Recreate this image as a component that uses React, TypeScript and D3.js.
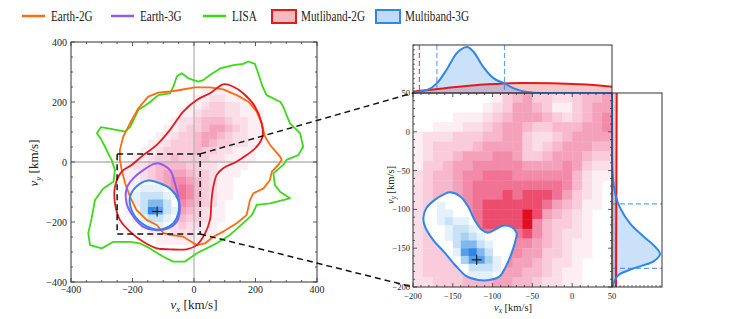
import React from 'react';
import * as d3 from 'd3';

const FONT = '"Liberation Serif", "Times New Roman", serif';

// legend
const legendLabels = ['Earth-2G', 'Earth-3G', 'LISA', 'Mutliband-2G', 'Multiband-3G'];
const legendColors = ['#ff6b0f', '#8f5cf2', '#3dd816', '#e31a1c', '#2e86e8'];
const legendKinds = ['line', 'line', 'line', 'patch', 'patch'];

// ticks
const wideTicks = [-400, -200, 0, 200, 400];
const zoomTicks = [-200, -150, -100, -50, 0, 50];

// injected velocity (km/s)
const truth: [number, number] = [-120, -165];
// zoom window drawn on the wide panel
const boxX = [-250, 20];
const boxY = [-240, 27];

// 90% contours, km/s
const lisaContour: [number, number][] = [
    [-316, 96], [-303, 116], [-262, 109], [-224, 101], [-208, 116], [-197, 140], [-181, 173], [-148, 196],
    [-116, 223], [-78, 229], [-67, 251], [-56, 285], [-40, 296], [-18, 279], [14, 268], [30, 273],
    [52, 290], [85, 312], [128, 323], [160, 327], [177, 335], [198, 327], [209, 296], [223, 251],
    [236, 223], [280, 201], [290, 185], [312, 129], [345, 96], [355, 51], [339, 23], [301, 7],
    [292, -8], [258, -38], [263, -77], [280, -99], [312, -121], [247, -138], [204, -143], [188, -177],
    [160, -204], [117, -243], [74, -271], [41, -288], [9, -304], [-29, -332], [-67, -332], [-100, -316],
    [-143, -288], [-176, -271], [-208, -266], [-262, -266], [-300, -288], [-338, -277], [-344, -238],
    [-333, -188], [-322, -127], [-295, -88], [-262, -66], [-257, -27], [-268, 7], [-276, 22], [-289, 50],
    [-303, 78],
];
const earth2gContour: [number, number][] = [
    [-241, 40], [-230, 85], [-208, 129], [-181, 179], [-149, 218], [-116, 231], [-78, 235], [-46, 240],
    [3, 249], [52, 249], [95, 242], [139, 223], [177, 201], [204, 168], [220, 129], [231, 85], [247, 57],
    [280, 18], [285, 7], [274, -10], [253, -32], [247, -60], [226, -88], [193, -104], [182, -127],
    [171, -177], [139, -204], [95, -232], [63, -249], [36, -271], [9, -277], [-35, -249], [-78, -243],
    [-100, -236], [-121, -210], [-154, -193], [-187, -160], [-208, -116], [-224, -71], [-235, -27], [-241, 7],
];
const mb2gContour: [number, number][] = [
    [-203, -10], [-165, 23], [-121, 57], [-78, 107], [-35, 168], [9, 207], [52, 229], [95, 259],
    [128, 251], [160, 229], [198, 185], [220, 129], [223, 85], [204, 51], [171, 23], [138, 1],
    [95, -21], [74, -43], [63, -82], [57, -127], [52, -193], [36, -238], [9, -277], [-24, -291],
    [-78, -291], [-121, -288], [-165, -266], [-208, -232], [-241, -193], [-257, -138], [-257, -82],
    [-235, -32],
];
const earth3gContour: [number, number][] = [
    [-116, -4], [-78, -27], [-62, -71], [-51, -116], [-46, -160], [-56, -199], [-84, -221], [-127, -227],
    [-165, -216], [-197, -182], [-219, -138], [-219, -88], [-197, -54], [-165, -27], [-132, -7],
];
const mb3gContourWide: [number, number][] = [
    [-149, -62], [-111, -71], [-73, -93], [-51, -127], [-51, -171], [-67, -204], [-100, -223],
    [-132, -223], [-176, -199], [-203, -160], [-208, -116], [-187, -82],
];
const mb3gContourZoom: [number, number][] = [
    [-154, -78], [-141, -83], [-131, -96], [-123, -113], [-114, -126], [-106, -130], [-97, -126],
    [-87, -121], [-76, -123], [-70, -130], [-72, -143], [-76, -156], [-83, -173], [-91, -186],
    [-104, -191], [-118, -191], [-133, -186], [-146, -173], [-160, -156], [-175, -139], [-185, -122],
    [-187, -111], [-183, -98], [-173, -88], [-160, -80],
];

// Multiband-2G histogram, wide view: 25 km/s bins, x from -275, rows from y=250 down
const mb2gHistWide = [
    '0000000000001111000000',
    '0000000000011221110000',
    '0000000000112332211000',
    '0000000001123332211100',
    '0000000012234443221100',
    '0000000112334554321100',
    '0000001123345543221100',
    '0000011233345433221100',
    '0000112333343322111000',
    '0001123343333221111000',
    '0012234444332211110000',
    '0011234555433211100000',
    '0011234566543211000000',
    '0011233567643211000000',
    '0011223467643211000000',
    '0011123456543210000000',
    '0011122345432110000000',
    '0001112334332110000000',
    '0000111223221100000000',
    '0000011122211100000000',
    '0000001111111000000000',
];
// Multiband-3G histogram, wide view: 25 km/s bins, x from -200, rows from y=-75 down
const mb3gHistWide = [
    '011100',
    '122210',
    '124420',
    '026521',
    '012210',
    '001100',
];
// Multiband-2G histogram, zoom view: 12.5 km/s bins, x from -200, rows from y=50 down
const mb2gHistZoom = [
    '00000000134533223445',
    '00000001235543113455',
    '00001112345554323456',
    '00111223455433444556',
    '12223334455322345555',
    '12333345555323455544',
    '12334555665334555433',
    '13345566666555565322',
    '23445667776666664211',
    '23445677777777764210',
    '23445677787888753210',
    '23445678888887543110',
    '23345678888985432100',
    '23345678888964332100',
    '23345667777864322100',
    '23334556666654321100',
    '23334455666553321100',
    '23334455565543221000',
    '23333445555443211000',
    '22333444554432211000',
];
// Multiband-3G histogram, zoom view: 10 km/s bins, x from -190, rows from y=-80 down
const mb3gHistZoom = [
    '000000000000',
    '001000000000',
    '001100000000',
    '001211000000',
    '000122100000',
    '000123210000',
    '000024421000',
    '000015642000',
    '000003553100',
    '000000222100',
    '000000111000',
    '000000000000',
];

// marginal densities (normalised to the panel height)
const topBlueX = [-200, -183, -170, -158, -145, -132, -124, -112, -99, -85, -74, -57, -40, 50];
const topBlueD = [0.01, 0.06, 0.2, 0.48, 0.83, 0.96, 0.86, 0.55, 0.31, 0.2, 0.1, 0.02, 0, 0];
const topRedX = [-200, -160, -116, -61, 10, 50];
const topRedD = [0.03, 0.1, 0.17, 0.21, 0.18, 0.13];
const sideBlueY = [50, 0, -50, -66, -84, -99, -118, -135, -148, -157.5, -167, -176, -184.5, -193, -200];
const sideBlueD = [0, 0.002, 0.01, 0.03, 0.08, 0.17, 0.36, 0.63, 0.86, 0.96, 0.83, 0.43, 0.13, 0.04, 0.02];
const sideRedY = [50, -75, -200];
const sideRedD = [0.094, 0.088, 0.08];
// 90% intervals
const topRedInterval = [-192];
const topBlueInterval = [-170, -85];
const sideBlueInterval = [-93, -176];

const redScale = d3.scaleLinear<string>()
    .domain([0, 1, 3, 5, 7, 8, 9])
    .range(['#ffffff', '#fdeef3', '#f9cbdb', '#f4a2bc', '#f07396', '#ec4c6e', '#e30d22']);
const blueScale = d3.scaleLinear<string>()
    .domain([0, 1, 3, 6])
    .range(['#ffffff', '#e4f1fb', '#a9d2f1', '#2f86e6']);

type Scale = d3.ScaleLinear<number, number>;

const heatCells = (rows: string[], x0: number, yTop: number, bin: number,
                   sx: Scale, sy: Scale, color: (v: number) => string, key: string) =>
    rows.flatMap((row, r) => row.split('').map((ch, c) => {
        const v = +ch;
        if (!v) {
            return null;
        }
        const xa = sx(x0 + c * bin);
        const xb = sx(x0 + (c + 1) * bin);
        const ya = sy(yTop - r * bin);
        const yb = sy(yTop - (r + 1) * bin);
        return <rect key={`${key}${r}_${c}`} x={xa} y={ya} width={xb - xa + 0.4} height={yb - ya + 0.4}
                     fill={color(v)}/>;
    }));

const closedPath = (pts: [number, number][], sx: Scale, sy: Scale, smooth: boolean) =>
    d3.line<[number, number]>()
        .x(d => sx(d[0]))
        .y(d => sy(d[1]))
        .curve(smooth ? d3.curveCatmullRomClosed.alpha(0.5) : d3.curveLinearClosed)(pts) || '';

// inward ticks on all four sides of a box
const frameTicks = (sx: Scale, sy: Scale, major: number[], minorStep: number, key: string) => {
    const [x0, x1] = sx.range();
    const [y1, y0] = sy.range();
    const [d0, d1] = sx.domain();
    const minor = d3.range(d0, d1 + 0.001, minorStep).filter(v => !major.includes(v));
    const out: React.ReactNode[] = [];
    const push = (v: number, len: number, tag: string) => {
        const px = sx(v);
        const py = sy(v);
        out.push(<line key={`${key}b${tag}${v}`} x1={px} x2={px} y1={y1} y2={y1 - len}/>);
        out.push(<line key={`${key}t${tag}${v}`} x1={px} x2={px} y1={y0} y2={y0 + len}/>);
        out.push(<line key={`${key}l${tag}${v}`} x1={x0} x2={x0 + len} y1={py} y2={py}/>);
        out.push(<line key={`${key}r${tag}${v}`} x1={x1} x2={x1 - len} y1={py} y2={py}/>);
    };
    major.forEach(v => push(v, 4, 'M'));
    minor.forEach(v => push(v, 2, 'm'));
    return <g stroke="#333" strokeWidth={0.8}>{out}</g>;
};

const fmt = (v: number) => (v < 0 ? `\u2212${Math.abs(v)}` : `${v}`);

const VLabel = ({x, y, sub, size, rotate}: {x: number, y: number, sub: string, size: number, rotate?: boolean}) => (
    <text x={x} y={y} fontSize={size} textAnchor="middle" fontFamily={FONT} fill="#222"
          transform={rotate ? `rotate(-90 ${x} ${y})` : undefined}>
        <tspan fontStyle="italic">v</tspan>
        <tspan fontStyle="italic" fontSize={size * 0.7} dy={size * 0.22}>{sub}</tspan>
        <tspan dy={-size * 0.22}> [km/s]</tspan>
    </text>
);

export default function App() {
    const xL = d3.scaleLinear().domain([-400, 400]).range([71, 317]);
    const yL = d3.scaleLinear().domain([-400, 400]).range([282, 42]);
    const xZ = d3.scaleLinear().domain([-200, 50]).range([413, 612]);
    const yZ = d3.scaleLinear().domain([-200, 50]).range([287, 93]);
    const dTop = d3.scaleLinear().domain([0, 1]).range([93, 45]);
    const dSide = d3.scaleLinear().domain([0, 1]).range([612, 662]);

    const topArea = (xs: number[], ds: number[]) =>
        d3.area<number>()
            .x(i => xZ(xs[i]))
            .y0(dTop(0))
            .y1(i => dTop(ds[i]))
            .curve(d3.curveMonotoneX)(d3.range(xs.length)) || '';
    const topLine = (xs: number[], ds: number[]) =>
        d3.line<number>()
            .x(i => xZ(xs[i]))
            .y(i => dTop(ds[i]))
            .curve(d3.curveMonotoneX)(d3.range(xs.length)) || '';
    const sideArea = (ys: number[], ds: number[]) =>
        d3.area<number>()
            .y(i => yZ(ys[i]))
            .x0(dSide(0))
            .x1(i => dSide(ds[i]))
            .curve(d3.curveCatmullRom)(d3.range(ys.length)) || '';
    const sideLine = (ys: number[], ds: number[]) =>
        d3.line<number>()
            .y(i => yZ(ys[i]))
            .x(i => dSide(ds[i]))
            .curve(d3.curveCatmullRom)(d3.range(ys.length)) || '';

    const red = legendColors[3];
    const blue = legendColors[4];
    const legendX = [22, 111, 203, 272, 376];

    const cross = (cx: number, cy: number, s: number) => (
        <g stroke="#111" strokeWidth={1.1}>
            <line x1={cx - s} x2={cx + s} y1={cy} y2={cy}/>
            <line x1={cx} x2={cx} y1={cy - s} y2={cy + s}/>
        </g>
    );

    return (
        <svg width={749} height={319} style={{position: 'absolute', left: 0, top: 0, background: '#fff'}}
             fontFamily={FONT}>
            <defs>
                <clipPath id="clipWide"><rect x={71} y={42} width={246} height={240}/></clipPath>
                <clipPath id="clipZoom"><rect x={413} y={93} width={199} height={194}/></clipPath>
                <clipPath id="clipTop"><rect x={413} y={45} width={199} height={48}/></clipPath>
                <clipPath id="clipSide"><rect x={612} y={93} width={50} height={194}/></clipPath>
                <clipPath id="clipB3W"><path d={closedPath(mb3gContourWide, xL, yL, true)}/></clipPath>
                <clipPath id="clipB3Z"><path d={closedPath(mb3gContourZoom, xZ, yZ, true)}/></clipPath>
            </defs>

            {/* legend */}
            {legendLabels.map((lab, i) => {
                const x = legendX[i];
                return (
                    <g key={lab}>
                        {legendKinds[i] === 'line'
                         ? <line x1={x} x2={x + 23} y1={16} y2={16} stroke={legendColors[i]} strokeWidth={2.5}/>
                         : <rect x={x} y={10} width={24} height={13} fill={legendColors[i]} fillOpacity={0.3}
                                 stroke={legendColors[i]} strokeWidth={2}/>}
                        <text transform={`translate(${x + 29},21) scale(0.8,1)`} fontSize={14} fill="#222">{lab}</text>
                    </g>
                );
            })}

            {/* wide panel */}
            <g clipPath="url(#clipWide)">
                {heatCells(mb2gHistWide, -275, 250, 25, xL, yL, redScale, 'rw')}
                <line x1={xL(0)} x2={xL(0)} y1={42} y2={282} stroke="#b5b5b5" strokeWidth={1.3}/>
                <line x1={71} x2={317} y1={yL(0)} y2={yL(0)} stroke="#b5b5b5" strokeWidth={1.3}/>
                <path d={closedPath(mb3gContourWide, xL, yL, true)} fill="#fff"/>
                <g clipPath="url(#clipB3W)">
                    {heatCells(mb3gHistWide, -200, -75, 25, xL, yL, blueScale, 'bw')}
                </g>
                <path d={closedPath(lisaContour, xL, yL, false)} fill="none" stroke={legendColors[2]} strokeWidth={1.8}
                      strokeLinejoin="round"/>
                <path d={closedPath(earth2gContour, xL, yL, false)} fill="none" stroke={legendColors[0]}
                      strokeWidth={1.8} strokeLinejoin="round"/>
                <path d={closedPath(mb2gContour, xL, yL, true)} fill="none" stroke={red} strokeWidth={1.8}/>
                <path d={closedPath(earth3gContour, xL, yL, true)} fill="none" stroke={legendColors[1]}
                      strokeWidth={2}/>
                <path d={closedPath(mb3gContourWide, xL, yL, true)} fill="none" stroke={blue} strokeWidth={2}/>
                {cross(xL(truth[0]), yL(truth[1]), 5)}
            </g>
            <rect x={71} y={42} width={246} height={240} fill="none" stroke="#333" strokeWidth={1}/>
            {frameTicks(xL, yL, wideTicks, 50, 'w')}
            {wideTicks.map(t => (
                <text key={`wx${t}`} x={xL(t)} y={293} fontSize={10} textAnchor="middle" fill="#222">{fmt(t)}</text>
            ))}
            {wideTicks.map(t => (
                <text key={`wy${t}`} x={67} y={yL(t) + 3.5} fontSize={10} textAnchor="end" fill="#222">{fmt(t)}</text>
            ))}
            <VLabel x={194} y={309} sub="x" size={13}/>
            <VLabel x={38} y={163} sub="y" size={13} rotate/>

            {/* zoom main panel */}
            <g clipPath="url(#clipZoom)">
                {heatCells(mb2gHistZoom, -200, 50, 12.5, xZ, yZ, redScale, 'rz')}
                <path d={closedPath(mb3gContourZoom, xZ, yZ, true)} fill="#fff"/>
                <g clipPath="url(#clipB3Z)">
                    {heatCells(mb3gHistZoom, -190, -80, 10, xZ, yZ, blueScale, 'bz')}
                </g>
                <path d={closedPath(mb3gContourZoom, xZ, yZ, true)} fill="none" stroke={blue} strokeWidth={2}/>
                {cross(xZ(truth[0]), yZ(truth[1]), 5)}
            </g>
            <rect x={413} y={93} width={199} height={194} fill="none" stroke="#333" strokeWidth={1}/>
            {frameTicks(xZ, yZ, zoomTicks, 10, 'z')}
            {zoomTicks.map(t => (
                <text key={`zx${t}`} x={xZ(t)} y={299} fontSize={8.5} textAnchor="middle" fill="#222">{fmt(t)}</text>
            ))}
            {zoomTicks.map(t => (
                <text key={`zy${t}`} x={410} y={yZ(t) + 3} fontSize={8.5} textAnchor="end" fill="#222">{fmt(t)}</text>
            ))}
            <VLabel x={513} y={311} sub="x" size={10.5}/>
            <VLabel x={394} y={185} sub="y" size={10.5} rotate/>

            {/* top marginal */}
            <g clipPath="url(#clipTop)">
                <path d={topArea(topRedX, topRedD)} fill={red} fillOpacity={0.25}/>
                <path d={topArea(topBlueX, topBlueD)} fill={blue} fillOpacity={0.25}/>
                {topRedInterval.map(v => (
                    <line key={`tr${v}`} x1={xZ(v)} x2={xZ(v)} y1={45} y2={93} stroke={red} strokeOpacity={0.75}
                          strokeWidth={1.2} strokeDasharray="5,3"/>
                ))}
                {topBlueInterval.map(v => (
                    <line key={`tb${v}`} x1={xZ(v)} x2={xZ(v)} y1={45} y2={93} stroke={blue} strokeOpacity={0.75}
                          strokeWidth={1.2} strokeDasharray="5,3"/>
                ))}
                <path d={topLine(topRedX, topRedD)} fill="none" stroke={red} strokeWidth={2}/>
                <path d={topLine(topBlueX, topBlueD)} fill="none" stroke={blue} strokeWidth={2}/>
            </g>
            <rect x={413} y={45} width={199} height={48} fill="none" stroke="#333" strokeWidth={1}/>
            <g stroke="#333" strokeWidth={0.8}>
                {d3.range(0, 1.001, 0.1).map(v => (
                    <line key={`tt${v}`} x1={413} x2={414.8} y1={dTop(v)} y2={dTop(v)}/>
                ))}
            </g>

            {/* side marginal */}
            <g clipPath="url(#clipSide)">
                <path d={sideArea(sideRedY, sideRedD)} fill={red} fillOpacity={0.25}/>
                <path d={sideArea(sideBlueY, sideBlueD)} fill={blue} fillOpacity={0.25}/>
                {sideBlueInterval.map(v => (
                    <line key={`sb${v}`} y1={yZ(v)} y2={yZ(v)} x1={612} x2={662} stroke={blue} strokeOpacity={0.75}
                          strokeWidth={1.2} strokeDasharray="5,3"/>
                ))}
                <path d={sideLine(sideRedY, sideRedD)} fill="none" stroke={red} strokeWidth={2}/>
                <path d={sideLine(sideBlueY, sideBlueD)} fill="none" stroke={blue} strokeWidth={2}/>
            </g>
            <rect x={612} y={93} width={50} height={194} fill="none" stroke="#333" strokeWidth={1}/>
            <g stroke="#333" strokeWidth={0.8}>
                {d3.range(0, 1.001, 0.08).map(v => (
                    <line key={`st${v}`} x1={dSide(v)} x2={dSide(v)} y1={287} y2={285.2}/>
                ))}
            </g>

            {/* zoom window and connectors */}
            <g fill="none" stroke="#111" strokeWidth={1.5} strokeDasharray="6,4">
                <rect x={xL(boxX[0])} y={yL(boxY[1])} width={xL(boxX[1]) - xL(boxX[0])}
                      height={yL(boxY[0]) - yL(boxY[1])}/>
                <line x1={xL(boxX[1])} y1={yL(boxY[1])} x2={413} y2={93}/>
                <line x1={xL(boxX[1])} y1={yL(boxY[0])} x2={413} y2={287}/>
            </g>
        </svg>
    );
}
